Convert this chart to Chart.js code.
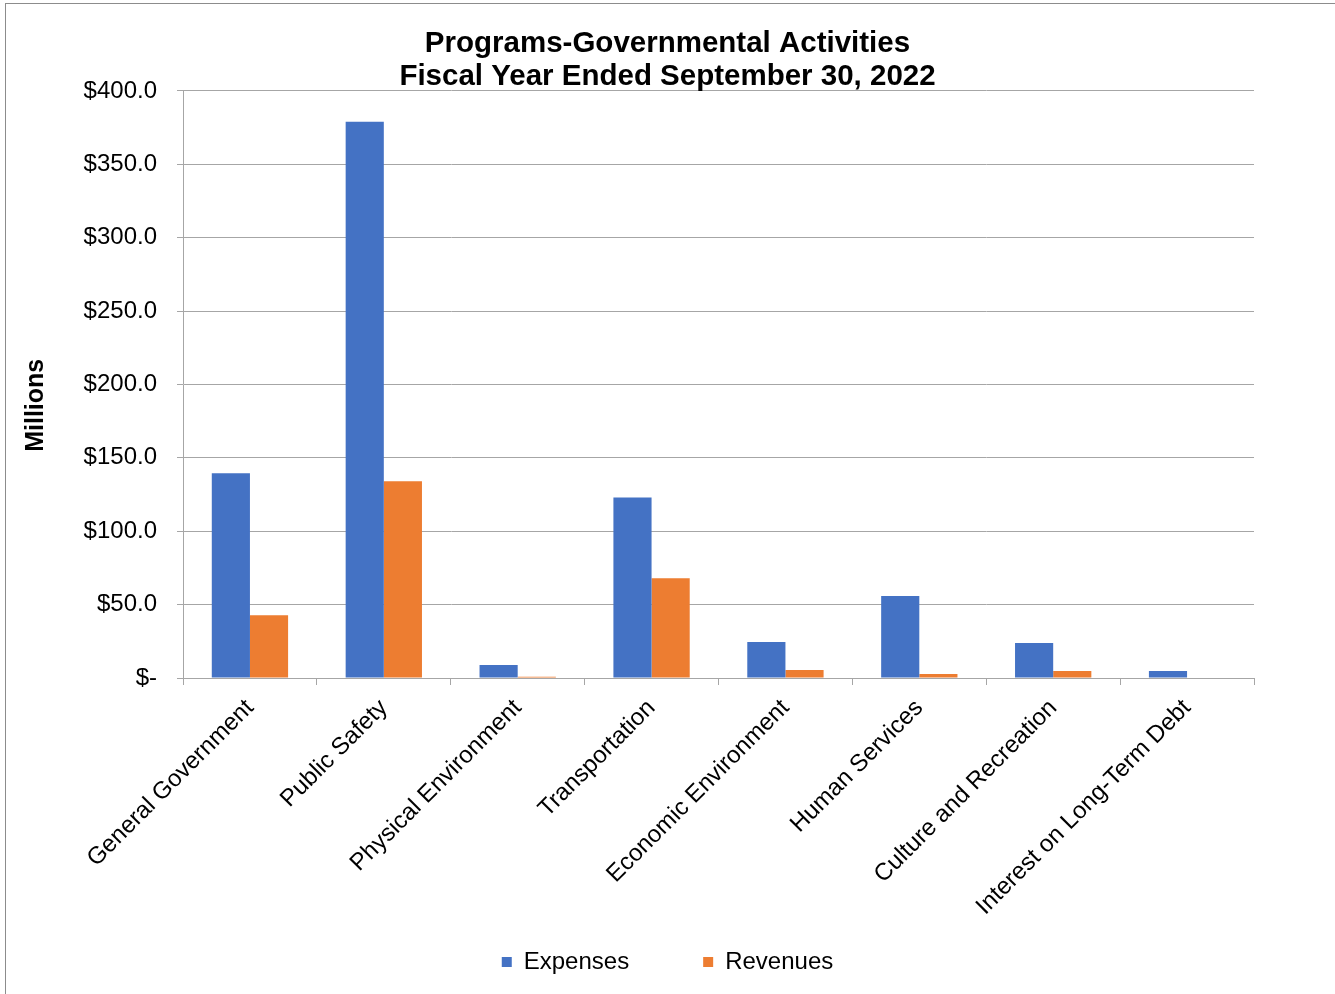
<!DOCTYPE html>
<html>
<head>
<meta charset="utf-8">
<title>Programs-Governmental Activities</title>
<script src="https://cdn.jsdelivr.net/npm/chart.js@4"></script>
<style>
  html, body { margin: 0; padding: 0; background: #fff; }
  #wrap { position: relative; width: 1335px; height: 994px; }
  #frame { position: absolute; left: 5px; top: 3px; right: -2px; bottom: -2px; border: 1px solid #8c8c8c; pointer-events: none; }
</style>
</head>
<body>
<div id="wrap">
  <canvas id="chartProgramas" width="1335" height="994"></canvas>
  <div id="frame"></div>
</div>
<script>
// Valores en millones de dólares
const categorias = ['General Government', 'Public Safety', 'Physical Environment', 'Transportation',
  'Economic Environment', 'Human Services', 'Culture and Recreation', 'Interest on Long-Term Debt'];
const gastos = [139.5, 379.0, 8.8, 123.0, 24.5, 55.8, 23.8, 4.8];
const ingresos = [42.8, 134.0, 0.8, 68.0, 5.4, 2.7, 4.8, 0];
const ticksY = [0, 50, 100, 150, 200, 250, 300, 350, 400];

const fuente = "'Liberation Sans', Arial, sans-serif";
const gris = '#a6a6a6';

function formatoDolar(v) {
  return v === 0 ? '$-' : '$' + v.toFixed(1);
}

// Las etiquetas inclinadas del eje X bajan más que la caja del eje: sin recorte
const sinRecorte = {
  id: 'sinRecorte',
  beforeDraw(chart) {
    chart.scales.x._computeLabelArea = () => undefined;
  }
};

const ctx = document.getElementById('chartProgramas');
new Chart(ctx, {
  type: 'bar',
  data: {
    labels: categorias,
    datasets: [{
      label: 'Expenses',
      data: gastos,
      backgroundColor: '#4472C4',
      categoryPercentage: 0.57,
      barPercentage: 1.0
    }, {
      label: 'Revenues',
      data: ingresos,
      backgroundColor: '#ED7D31',
      categoryPercentage: 0.57,
      barPercentage: 1.0
    }]
  },
  plugins: [sinRecorte],
  options: {
    responsive: false,
    animation: false,
    layout: { padding: { left: 5, right: 5, top: 15, bottom: 10 } },
    plugins: {
      title: {
        display: true,
        text: ['Programs-Governmental Activities', 'Fiscal Year Ended September 30, 2022'],
        color: '#000',
        font: { family: fuente, size: 29.5, weight: 'bold', lineHeight: 1.1 },
        padding: { top: 13, bottom: -2 }
      },
      legend: {
        position: 'bottom',
        labels: {
          boxWidth: 10,
          boxHeight: 10,
          padding: 74,
          color: '#000',
          font: { family: fuente, size: 24 }
        }
      },
      tooltip: { enabled: false }
    },
    scales: {
      x: {
        offset: true,
        grid: { offset: true, drawOnChartArea: false, drawTicks: true, tickLength: 7, color: gris },
        border: { color: gris },
        ticks: {
          minRotation: 45,
          maxRotation: 45,
          autoSkip: false,
          padding: 9,
          color: '#000',
          font: { family: fuente, size: 24 }
        },
        afterFit: function (scale) { scale.height = 198; }
      },
      y: {
        min: 0,
        max: 400,
        afterBuildTicks: function (scale) { scale.ticks = ticksY.map(v => ({ value: v })); },
        grid: { color: gris, tickLength: 6 },
        border: { color: gris },
        ticks: {
          padding: 20,
          color: '#000',
          font: { family: fuente, size: 24 },
          callback: formatoDolar
        },
        title: {
          display: true,
          text: 'Millions' + '\u00a0'.repeat(6),
          color: '#000',
          font: { family: fuente, size: 25, weight: 'bold' },
          padding: { top: 16, bottom: 0 }
        },
        afterFit: function (scale) { scale.width = 178; }
      },
      // margen derecho vacío para que título y leyenda queden centrados en el lienzo
      margenDerecho: {
        type: 'linear',
        position: 'right',
        grid: { display: false },
        border: { display: false },
        ticks: { display: false },
        afterFit: function (scale) { scale.width = 76; }
      }
    }
  }
});
</script>
</body>
</html>
